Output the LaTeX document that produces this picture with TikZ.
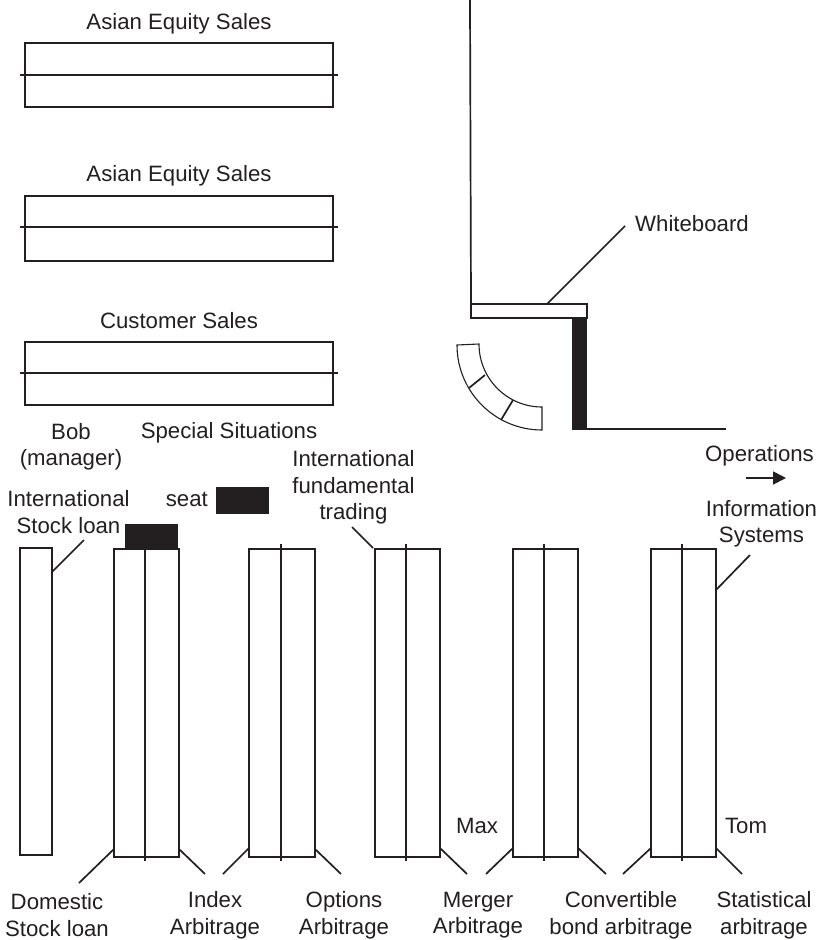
\documentclass[tikz,border=0pt]{standalone}
\usepackage{fontspec}
\setmainfont{Liberation Sans}
\usetikzlibrary{arrows.meta}
\definecolor{ink}{HTML}{231F20}
\tikzset{
  every path/.style={color=ink},
  lw/.style={line width=1.7pt},
  thinl/.style={line width=1.1pt},
  bar/.style={draw=ink,lw,fill=white,inner sep=0pt,outer sep=0pt,anchor=north west},
  desk/.style={bar,minimum width=65pt,minimum height=308pt},
  table/.style={bar,minimum width=308pt,minimum height=64pt},
  solid seat/.style={fill=ink,draw=none,inner sep=0pt,outer sep=0pt,anchor=north west},
  lab/.style={font=\fontsize{22.2}{26.5}\selectfont,text=ink,align=center,inner sep=0pt},
}
\begin{document}
\begin{tikzpicture}[x=1pt,y=1pt]
\useasboundingbox (0,0) rectangle (824,-940);
% sales tables
\node[table] (t1) at (25,-43) {};
\node[table,minimum height=65pt] (t2) at (25,-196) {};
\node[table,minimum height=63pt] (t3) at (25,-342) {};
\draw[lw] ([xshift=-5pt]t1.west) -- ([xshift=5pt]t1.east);
\draw[lw] ([xshift=-5pt,yshift=1.5pt]t2.west) -- ([xshift=5pt,yshift=1.5pt]t2.east);
\draw[lw] ([xshift=-5pt,yshift=0.5pt]t3.west) -- ([xshift=5pt,yshift=0.5pt]t3.east);
\node[lab] (l1) at (179,-23.5) {Asian Equity Sales};
\node[lab] (l2) at (179,-176) {Asian Equity Sales};
\node[lab] (l3) at (179,-321) {Customer Sales};
\node[lab] (bob) at (71,-447) {Bob\\(manager)};
\node[lab] (spec) at (229,-432.5) {Special Situations};
% wall and whiteboard
\node[bar,minimum width=116pt,minimum height=14pt] (wb) at (471,-304) {};
\node[solid seat,minimum width=15pt,minimum height=112pt] (wall) at (572,-318) {};
\coordinate (walltop) at (470,0);
\coordinate (wallend) at (726,-429);
\draw[lw] (walltop) -- (wb.north west);
\draw[lw] ([yshift=1pt]wall.south east) -- (wallend);
\node[lab] (wbl) at (692,-224) {Whiteboard};
\coordinate (wbe) at (625,-226);
\draw[lw] ([xshift=18pt]wb.north) -- (wbe);
% curved bench
\draw[thinl] (457,-345) arc[start angle=180,end angle=270,radius=85] -- (542,-407)
  arc[start angle=270,end angle=180,radius=63] -- cycle;
\draw[lw] (469,-388) -- (485,-375);
\draw[lw] (501,-420) -- (513,-400);
% operations
\node[lab] (ops) at (759.5,-455.5) {Operations};
\coordinate (a1) at (746,-478);
\coordinate (a2) at (786,-478);
\draw[lw,-{Triangle[length=13pt,width=13pt]}] (a1) -- (a2);
% desks
\node[bar,minimum width=32pt,minimum height=307pt] (d0) at (20,-548) {};
\node[desk] (d1) at (114,-549) {};
\node[desk,minimum width=66pt] (d2) at (249,-549) {};
\node[desk] (d3) at (375,-549) {};
\node[desk] (d4) at (513,-549) {};
\node[desk] (d5) at (651,-549) {};
\draw[lw] ([xshift=-1.5pt]d1.north) -- ([xshift=-1.5pt,yshift=-4pt]d1.south);
\draw[lw] ([xshift=-1pt,yshift=5pt]d2.north) -- ([xshift=-1pt,yshift=-4pt]d2.south);
\foreach \d in {d3,d4,d5}{
  \draw[lw] ([xshift=-1.5pt,yshift=5pt]\d.north) -- ([xshift=-1.5pt,yshift=-4pt]\d.south);
}
\node[solid seat,minimum width=53pt,minimum height=25pt] (s1) at (125,-524) {};
\node[solid seat,minimum width=53pt,minimum height=27pt] (s2) at (216,-487) {};
\node[lab,anchor=east] (seat) at (208,-499.5) {seat};
% upper labels and leaders
\node[lab] (il) at (68.5,-512) {International\\Stock loan};
\coordinate (e0) at (84,-540);
\draw[lw] ([yshift=-24pt]d0.north east) -- (e0);
\node[lab] (ift) at (353.5,-487.5) {International\\fundamental\\trading};
\coordinate (e3) at (352,-527);
\draw[lw] ([xshift=-2pt,yshift=1pt]d3.north west) -- (e3);
\node[lab] (is) at (761.5,-524) {Information\\Systems};
\coordinate (e5) at (750,-555);
\draw[lw] ([yshift=-41pt]d5.north east) -- (e5);
% lower leaders
\coordinate (f1) at (79,-883);
\coordinate (f2) at (205,-874);
\coordinate (f3) at (223,-874);
\coordinate (f4) at (341,-874);
\coordinate (f5) at (467,-874);
\coordinate (f6) at (486,-874);
\coordinate (f7) at (606,-874);
\coordinate (f8) at (623,-874);
\coordinate (f9) at (742,-874);
\draw[lw] ([yshift=8pt]d1.south west) -- (f1);
\draw[lw] ([yshift=8pt]d1.south east) -- (f2);
\draw[lw] ([yshift=9pt]d2.south west) -- (f3);
\draw[lw] ([yshift=8pt]d2.south east) -- (f4);
\draw[lw] ([yshift=9pt]d3.south east) -- (f5);
\draw[lw] ([yshift=9pt]d4.south west) -- (f6);
\draw[lw] ([yshift=9pt]d4.south east) -- (f7);
\draw[lw] ([yshift=9pt]d5.south west) -- (f8);
\draw[lw] ([yshift=9pt]d5.south east) -- (f9);
% lower labels
\node[lab] (max) at (477,-825.5) {Max};
\node[lab] (tom) at (746,-825.5) {Tom};
\node[lab] (b1) at (57,-915) {Domestic\\Stock loan};
\node[lab] (b2) at (215,-915) {Index\\Arbitrage};
\node[lab] (b3) at (344,-915) {Options\\Arbitrage};
\node[lab] (b4) at (478,-915) {Merger\\Arbitrage};
\node[lab] (b5) at (621,-915) {Convertible\\bond arbitrage};
\node[lab] (b6) at (764,-915) {Statistical\\arbitrage};
\end{tikzpicture}
\end{document}
